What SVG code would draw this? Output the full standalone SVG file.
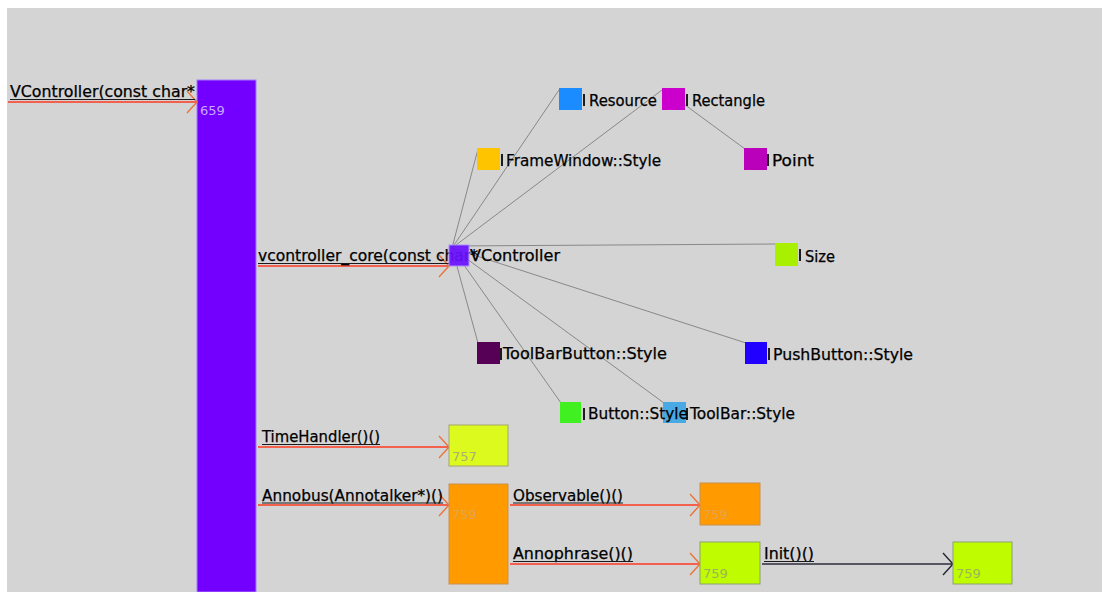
<svg xmlns="http://www.w3.org/2000/svg" width="1102" height="592" viewBox="0 0 1102 592">
  <defs>
    <style>
      .lbl { font-family: "DejaVu Sans", "Liberation Sans", sans-serif; font-size: 15px; fill: #000000; stroke: #000000; stroke-width: 0.25; }
      .num { font-family: "DejaVu Sans", "Liberation Sans", sans-serif; font-size: 13px; }
      .edge { stroke: #888888; stroke-width: 1; fill: none; }
      .call { stroke: #ff3a22; stroke-width: 1.3; fill: none; }
      .callDark { stroke: #2c2c3a; stroke-width: 1.3; fill: none; }
      .ul { stroke: #1a1a1a; stroke-width: 1; }
      .bar { fill: #1c1c1c; }
      .box { stroke-width: 1; }
    </style>
    <marker id="arrowRed" viewBox="-13 -12 15 24" refX="0" refY="0" markerWidth="15" markerHeight="24" markerUnits="userSpaceOnUse" orient="auto">
      <path d="M-10,-11 L0,0 L-10,11" fill="none" stroke="#e8743c" stroke-width="1.4"/>
    </marker>
    <marker id="arrowDark" viewBox="-13 -12 15 24" refX="0" refY="0" markerWidth="15" markerHeight="24" markerUnits="userSpaceOnUse" orient="auto">
      <path d="M-10,-11 L0,0 L-10,11" fill="none" stroke="#24242c" stroke-width="1.4"/>
    </marker>
  </defs>

  <!-- canvas -->
  <rect x="0" y="0" width="1102" height="592" fill="#ffffff"/>
  <rect x="7" y="8" width="1095" height="584" fill="#d4d4d4"/>

  <!-- call stack column -->
  <g id="node-vcontroller-frame">
    <rect x="197" y="80" width="59" height="512" fill="#7300ff" stroke="#a27cff" stroke-width="1"/>
    <text class="num" x="200" y="115" fill="#c9a9ff">659</text>
  </g>

  <!-- connectors -->
  <g id="connectors">
    <!-- dependency edges of the vcontroller_core node -->
    <line class="edge" x1="452" y1="248" x2="559" y2="90"/>
    <line class="edge" x1="452" y1="248" x2="662" y2="90"/>
    <line class="edge" x1="452" y1="248" x2="478" y2="149"/>
    <line class="edge" x1="452" y1="246" x2="776" y2="244"/>
    <line class="edge" x1="452" y1="248" x2="478" y2="343"/>
    <line class="edge" x1="452" y1="248" x2="561" y2="403"/>
    <line class="edge" x1="452" y1="248" x2="664" y2="403"/>
    <line class="edge" x1="452" y1="248" x2="746" y2="343"/>
    <line class="edge" x1="662" y1="88" x2="745" y2="149"/>

    <!-- calls -->
    <line class="call" x1="8" y1="102" x2="197" y2="102" marker-end="url(#arrowRed)"/>
    <line class="call" x1="258" y1="266" x2="449" y2="266" marker-end="url(#arrowRed)"/>
    <line class="call" x1="258" y1="447" x2="449" y2="447" marker-end="url(#arrowRed)"/>
    <line class="call" x1="258" y1="505" x2="449" y2="505" marker-end="url(#arrowRed)"/>
    <line class="call" x1="510" y1="505" x2="700" y2="505" marker-end="url(#arrowRed)"/>
    <line class="call" x1="510" y1="564" x2="700" y2="564" marker-end="url(#arrowRed)"/>
    <line class="callDark" x1="762" y1="564" x2="953" y2="564" marker-end="url(#arrowDark)"/>
  </g>

  <!-- call labels -->
  <g id="label-vcontroller">
    <text class="lbl" x="10" y="97" textLength="185" lengthAdjust="spacingAndGlyphs">VController(const char*</text>
    <line class="ul" x1="10" y1="99.5" x2="195" y2="99.5"/>
  </g>

  <!-- graph nodes: squares first, then captions -->
  <g id="node-resource">
    <rect x="559" y="88" width="23" height="22" fill="#1a8cff"/>
    <rect class="bar" x="583" y="94" width="2" height="12"/>
  </g>
  <g id="node-rectangle">
    <rect x="662" y="88" width="23" height="22" fill="#cc00cc"/>
    <rect class="bar" x="686" y="94" width="2" height="12"/>
  </g>
  <g id="node-point">
    <rect x="744" y="148" width="23" height="22" fill="#bb00bb"/>
    <rect class="bar" x="767" y="154" width="2" height="12"/>
  </g>
  <g id="node-framewindow-style">
    <rect x="477" y="148" width="23" height="22" fill="#ffc400"/>
    <rect class="bar" x="501" y="154" width="2" height="12"/>
  </g>
  <g id="node-size">
    <rect x="775" y="243" width="23" height="23" fill="#a8f000"/>
    <rect class="bar" x="799" y="249" width="2" height="12"/>
  </g>
  <g id="node-pushbutton-style">
    <rect x="745" y="342" width="22" height="22" fill="#2200ff"/>
    <rect class="bar" x="768" y="348" width="2" height="12"/>
  </g>
  <g id="node-toolbarbutton-style">
    <rect x="477" y="342" width="23" height="22" fill="#560056"/>
    <rect class="bar" x="500" y="348" width="2" height="12"/>
  </g>
  <g id="node-button-style">
    <rect x="560" y="402" width="21" height="21" fill="#40f020"/>
    <rect class="bar" x="583" y="408" width="2" height="12"/>
  </g>
  <g id="node-toolbar-style">
    <rect x="663" y="402" width="23" height="21" fill="#3aa4e6" opacity="0.9"/>
    <rect class="bar" x="686" y="408" width="2" height="12"/>
  </g>

  <g id="node-vcontroller-core">
    <text class="lbl" x="258" y="261" textLength="220" lengthAdjust="spacingAndGlyphs">vcontroller_core(const char*</text>
    <line class="ul" x1="258" y1="263.5" x2="449" y2="263.5"/>
    <rect x="449" y="245" width="20" height="21" fill="#6a10ff" opacity="0.92" stroke="#a68cff" stroke-width="1"/>
    <text class="lbl" x="470" y="261" textLength="90" lengthAdjust="spacingAndGlyphs">VController</text>
  </g>

  <g id="captions">
    <text class="lbl" x="589" y="106" textLength="68" lengthAdjust="spacingAndGlyphs">Resource</text>
    <text class="lbl" x="692" y="106" textLength="73" lengthAdjust="spacingAndGlyphs">Rectangle</text>
    <text class="lbl" x="772" y="166" textLength="42" lengthAdjust="spacingAndGlyphs">Point</text>
    <text class="lbl" x="506" y="166" textLength="155" lengthAdjust="spacingAndGlyphs">FrameWindow::Style</text>
    <text class="lbl" x="805" y="262" textLength="30" lengthAdjust="spacingAndGlyphs">Size</text>
    <text class="lbl" x="773" y="360" textLength="140" lengthAdjust="spacingAndGlyphs">PushButton::Style</text>
    <text class="lbl" x="503" y="359" textLength="164" lengthAdjust="spacingAndGlyphs">ToolBarButton::Style</text>
    <text class="lbl" x="588" y="419" textLength="100" lengthAdjust="spacingAndGlyphs">Button::Style</text>
    <text class="lbl" x="690" y="419" textLength="105" lengthAdjust="spacingAndGlyphs">ToolBar::Style</text>
  </g>

  <!-- lower call tree -->
  <g id="node-timehandler">
    <text class="lbl" x="262" y="442" textLength="118" lengthAdjust="spacingAndGlyphs">TimeHandler()()</text>
    <line class="ul" x1="262" y1="444.5" x2="380" y2="444.5"/>
    <rect class="box" x="449" y="425" width="59" height="41" fill="#dcfa1e" stroke="#a4a46a"/>
    <text class="num" x="452" y="461" fill="#aeae72">757</text>
  </g>
  <g id="node-annobus">
    <text class="lbl" x="262" y="501" textLength="181" lengthAdjust="spacingAndGlyphs">Annobus(Annotalker*)()</text>
    <line class="ul" x1="262" y1="503" x2="443" y2="503"/>
    <rect class="box" x="449" y="484" width="59" height="100" fill="#ff9a00" stroke="#c89050"/>
    <text class="num" x="452" y="519" fill="#e2a452">759</text>
  </g>
  <g id="node-observable">
    <text class="lbl" x="513" y="501" textLength="110" lengthAdjust="spacingAndGlyphs">Observable()()</text>
    <line class="ul" x1="513" y1="503" x2="623" y2="503"/>
    <rect class="box" x="700" y="483" width="60" height="42" fill="#ff9a00" stroke="#c89050"/>
    <text class="num" x="703" y="519" fill="#e2a452">759</text>
  </g>
  <g id="node-annophrase">
    <text class="lbl" x="513" y="559" textLength="120" lengthAdjust="spacingAndGlyphs">Annophrase()()</text>
    <line class="ul" x1="513" y1="561.5" x2="633" y2="561.5"/>
    <rect class="box" x="700" y="542" width="60" height="42" fill="#c0fc00" stroke="#8aa070"/>
    <text class="num" x="703" y="578" fill="#9cb45a">759</text>
  </g>
  <g id="node-init">
    <text class="lbl" x="764" y="559" textLength="50" lengthAdjust="spacingAndGlyphs">Init()()</text>
    <line class="ul" x1="764" y1="561.5" x2="814" y2="561.5"/>
    <rect class="box" x="953" y="542" width="59" height="42" fill="#c0fc00" stroke="#8aa070"/>
    <text class="num" x="956" y="578" fill="#9cb45a">759</text>
  </g>
</svg>
